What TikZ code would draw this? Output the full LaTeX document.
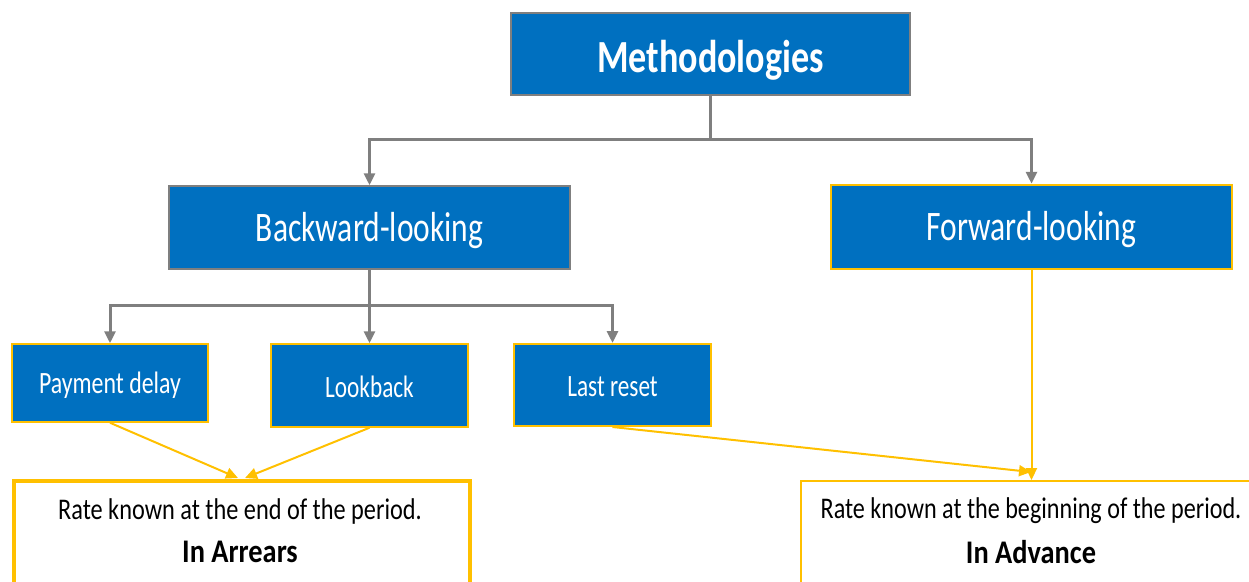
\documentclass[tikz,border=0pt]{standalone}
\usepackage{fontspec}
\usepackage{graphicx}
\setmainfont{Carlito}
\usetikzlibrary{arrows.meta}
\definecolor{mblue}{HTML}{0070C0}
\definecolor{mgold}{HTML}{FFC000}
\definecolor{mgray}{HTML}{7F7F7F}
\newcommand{\sq}[3][0.75]{\raisebox{-#2}[\height][\depth]{\scalebox{#1}[1]{#3}}}
\newcommand{\sqb}[2][0.81]{\scalebox{#1}[1]{#2}}
\tikzset{
  bluebox/.style={draw=mgray, line width=1.5pt, fill=mblue, text=white, inner sep=0pt, align=center},
  goldbox/.style={bluebox, draw=mgold},
  outbox/.style={draw=mgold, fill=white, inner sep=0pt},
  grayconn/.style={draw=mgray, line width=3pt, -{Triangle[length=12pt,width=11pt]}},
  goldconn/.style={draw=mgold, line width=2pt, -{Triangle[length=12pt,width=11pt]}},
  bigtxt/.style={font=\fontsize{46}{50}\selectfont\bfseries},
  midtxt/.style={font=\fontsize{42}{48}\selectfont},
  smalltxt/.style={font=\fontsize{31}{36}\selectfont},
  bottxt/.style={font=\fontsize{30}{34}\selectfont, inner sep=0pt},
  bothead/.style={font=\fontsize{33}{38}\selectfont\bfseries, inner sep=0pt},
}
\begin{document}
\begin{tikzpicture}[x=1pt,y=-1pt]
\useasboundingbox (0,0) rectangle (1249,581);
\clip (0,0) rectangle (1249,581);
% boxes
\node[bluebox, bigtxt, minimum width=399pt, minimum height=82pt] (meth) at (710.5,54) {\sq[0.785]{6pt}{Methodologies}};
\node[bluebox, midtxt, minimum width=401pt, minimum height=83pt] (back) at (369.5,227.5) {\sq{3pt}{Backward-looking}};
\node[goldbox, midtxt, line width=2.5pt, minimum width=401pt, minimum height=84pt] (fwd) at (1031.5,227) {\sq{3pt}{Forward-looking}};
\node[goldbox, smalltxt, minimum width=196pt, minimum height=78pt] (pay) at (110,383) {\sq[0.77]{2pt}{Payment delay}};
\node[goldbox, smalltxt, minimum width=197pt, minimum height=83pt] (look) at (369.5,385.5) {\sq{1pt}{Lookback}};
\node[goldbox, smalltxt, line width=2pt, minimum width=197pt, minimum height=82pt] (last) at (612.5,385) {\sq{2pt}{Last reset}};
\node[outbox, line width=4pt, minimum width=456pt, minimum height=200pt, anchor=north west] (arr) at (12,479) {};
\node[outbox, line width=2pt, minimum width=500pt, minimum height=200pt, anchor=north west] (adv) at (800,480) {};
% texts in bottom boxes
\node[bottxt] (arrt) at (240,511) {\sqb{Rate known at the end of the period.}};
\node[bothead] (arrh) at (240,552) {\sqb[0.86]{In Arrears}};
\node[bottxt] (advt) at (1031,511) {\sqb[0.805]{Rate known at the beginning of the period.}};
\node[bothead] (advh) at (1031,552) {\sqb[0.86]{In Advance}};
% gray connectors
\coordinate (j1) at (711,139);
\coordinate (j2) at (370,305);
\draw[grayconn] (meth.south) |- (j1) -| (back.north);
\draw[grayconn] (j1) -| (fwd.north);
\draw[grayconn] (back.south) -- (look.north);
\draw[grayconn] (j2) -| (pay.north);
\draw[grayconn] (j2) -| (last.north);
% gold connectors
\coordinate (a1) at (238,478);
\coordinate (a2) at (245,478);
\coordinate (a3) at (1031,472);
\draw[goldconn] (pay.south) -- (a1);
\draw[goldconn] (look.south) -- (a2);
\draw[goldconn] (last.south) -- (a3);
\draw[goldconn] (fwd.south) -- (adv.north -| fwd.south);
\end{tikzpicture}
\end{document}
